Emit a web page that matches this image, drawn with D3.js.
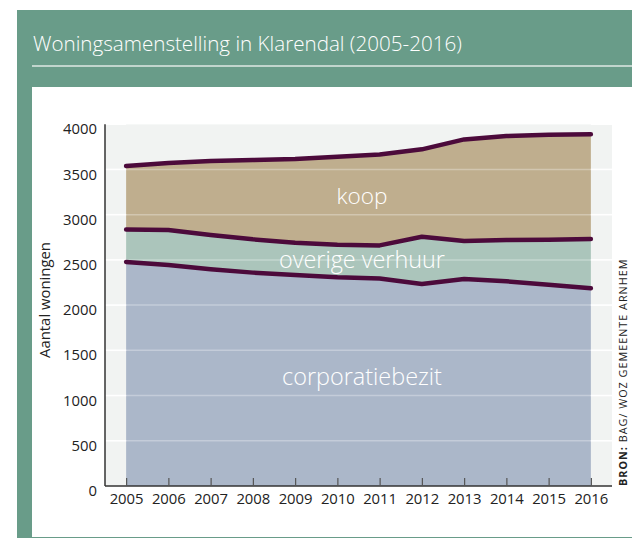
<!DOCTYPE html>
<html>
<head>
<meta charset="utf-8">
<script src="https://cdn.jsdelivr.net/npm/d3@7"></script>
<style>
  body { margin: 0; background: #fff; }
  svg { display: block; font-family: "Open Sans", Lato, sans-serif; }
</style>
</head>
<body>
<div id="chart"></div>
<script>
// data
var years = [2005, 2006, 2007, 2008, 2009, 2010, 2011, 2012, 2013, 2014, 2015, 2016];
var corporatiebezit = [2477, 2443, 2396, 2359, 2333, 2307, 2294, 2233, 2289, 2263, 2226, 2186];
var overigeVerhuur  = [358, 387, 379, 368, 357, 361, 366, 523, 420, 457, 497, 545];
var koop            = [703, 741, 818, 877, 925, 973, 1005, 966, 1123, 1149, 1161, 1157];
var yTicks = [0, 500, 1000, 1500, 2000, 2500, 3000, 3500, 4000];

var keys = ["corporatiebezit", "overige verhuur", "koop"];
var labels = {"corporatiebezit": {text: "corporatiebezit", y: 377, w: 160},
              "overige verhuur": {text: "overige verhuur", y: 260, w: 166},
              "koop": {text: "koop", y: 196, w: 51}};
var fills = {"corporatiebezit": "#abb7c9", "overige verhuur": "#abc5bb", "koop": "#bfae8e"};

var W = 632, H = 544;
var svg = d3.select("#chart").append("svg")
    .attr("width", W).attr("height", H);

// scale the font so the text gets a given width
function fitWidth(sel, target) {
    sel.each(function() {
        var el = d3.select(this);
        var fs = parseFloat(el.attr("font-size"));
        var w = this.getComputedTextLength();
        el.attr("font-size", (fs * target / w).toFixed(2));
    });
}

// green frame + white panel
svg.append("rect").attr("x", 17).attr("y", 10).attr("width", W - 17).attr("height", 528)
    .attr("fill", "#699c89");
svg.append("text").attr("x", 33).attr("y", 51)
    .attr("fill", "#fff").attr("font-size", 18).attr("font-weight", 300)
    .text("Woningsamenstelling in Klarendal (2005-2016)")
    .call(fitWidth, 429);
svg.append("line").attr("x1", 32).attr("x2", W).attr("y1", 66).attr("y2", 66)
    .attr("stroke", "#dfe9e4").attr("stroke-width", 1.5);
svg.append("rect").attr("x", 32).attr("y", 87).attr("width", W - 32).attr("height", 450)
    .attr("fill", "#fff");

var left = 105, right = 612, bottom = 486;

var x = d3.scalePoint().domain(years).range([left, right]).padding(0.5);
var y = d3.scaleLinear().domain([0, 4000]).range([bottom, 124.2]);

// plot background
svg.append("rect").attr("x", left).attr("y", y(4000)).attr("width", right - left)
    .attr("height", bottom - y(4000)).attr("fill", "#f1f3f2");

var table = years.map(function(yr, i) {
    return {year: yr, "corporatiebezit": corporatiebezit[i],
            "overige verhuur": overigeVerhuur[i], "koop": koop[i]};
});
var series = d3.stack().keys(keys)(table);

var area = d3.area()
    .x(function(d) { return x(d.data.year); })
    .y0(function(d) { return y(d[0]); })
    .y1(function(d) { return y(d[1]); });

svg.append("g").selectAll("path")
    .data(series).enter().append("path")
    .attr("d", area)
    .attr("fill", function(d) { return fills[d.key]; });

// gridlines: solid white on the background, faint over the areas
var grid = yTicks.filter(function(t) { return t > 0; });
svg.append("g").selectAll("line")
    .data(grid).enter().append("line")
    .attr("x1", left).attr("x2", right)
    .attr("y1", function(d) { return y(d); }).attr("y2", function(d) { return y(d); })
    .attr("stroke", "#fff").attr("stroke-opacity", 0.3).attr("stroke-width", 1.5);
[[left, x(2005)], [x(2016), right]].forEach(function(span) {
    svg.append("g").selectAll("line")
        .data(grid).enter().append("line")
        .attr("x1", span[0]).attr("x2", span[1])
        .attr("y1", function(d) { return y(d); }).attr("y2", function(d) { return y(d); })
        .attr("stroke", "#fff").attr("stroke-width", 1.5);
});

// dark lines on top edge of each layer
var line = d3.line()
    .x(function(d) { return x(d.data.year); })
    .y(function(d) { return y(d[1]); });

svg.append("g").selectAll("path")
    .data(series).enter().append("path")
    .attr("d", line)
    .attr("fill", "none")
    .attr("stroke", "#4c0a3b")
    .attr("stroke-width", 4.5)
    .attr("stroke-linecap", "round")
    .attr("stroke-linejoin", "round");

// area labels
svg.append("g").selectAll("text")
    .data(keys).enter().append("text")
    .attr("x", 362)
    .attr("y", function(d) { return labels[d].y; })
    .attr("dy", "0.35em")
    .attr("text-anchor", "middle")
    .attr("fill", "#fff")
    .attr("font-size", 20)
    .attr("font-weight", 300)
    .text(function(d) { return labels[d].text; })
    .each(function(d) { d3.select(this).call(fitWidth, labels[d].w); });

// axes
var xAxis = svg.append("g")
    .attr("transform", "translate(0," + bottom + ")")
    .call(d3.axisBottom(x).tickSize(-8).tickPadding(7))
    .attr("font-family", null);
xAxis.select(".domain").attr("d", "M" + left + ",0H" + right).attr("stroke", "#333").attr("stroke-width", 1.5);
xAxis.selectAll(".tick line").attr("stroke", "#555").attr("stroke-width", 1.2);
xAxis.selectAll(".tick text").attr("fill", "#222").attr("font-size", 13);
var xfs = 13 * 34 / xAxis.select(".tick text").node().getComputedTextLength();
xAxis.selectAll(".tick text").attr("font-size", xfs);

var yAxis = svg.append("g")
    .attr("transform", "translate(" + left + ",0)")
    .call(d3.axisLeft(y).tickValues(yTicks).tickFormat(d3.format("d")).tickSize(0).tickPadding(8))
    .attr("font-family", null);
yAxis.select(".domain").attr("d", "M0," + y(4000) + "V" + bottom).attr("stroke", "#333").attr("stroke-width", 1.5);
yAxis.selectAll(".tick text").attr("fill", "#222")
    .attr("dy", "0.65em")
    .attr("font-size", xfs);

svg.append("text")
    .attr("transform", "translate(50,300) rotate(-90)")
    .attr("text-anchor", "middle")
    .attr("font-size", 13)
    .attr("fill", "#222")
    .text("Aantal woningen")
    .call(fitWidth, 116);

// source
var src = svg.append("text")
    .attr("transform", "translate(627,486) rotate(-90)")
    .attr("font-size", 10)
    .attr("letter-spacing", 1)
    .attr("fill", "#222");
src.append("tspan").attr("font-weight", 700).text("BRON:");
src.append("tspan").text(" BAG/ WOZ GEMEENTE ARNHEM");
src.call(fitWidth, 230);
</script>
</body>
</html>
